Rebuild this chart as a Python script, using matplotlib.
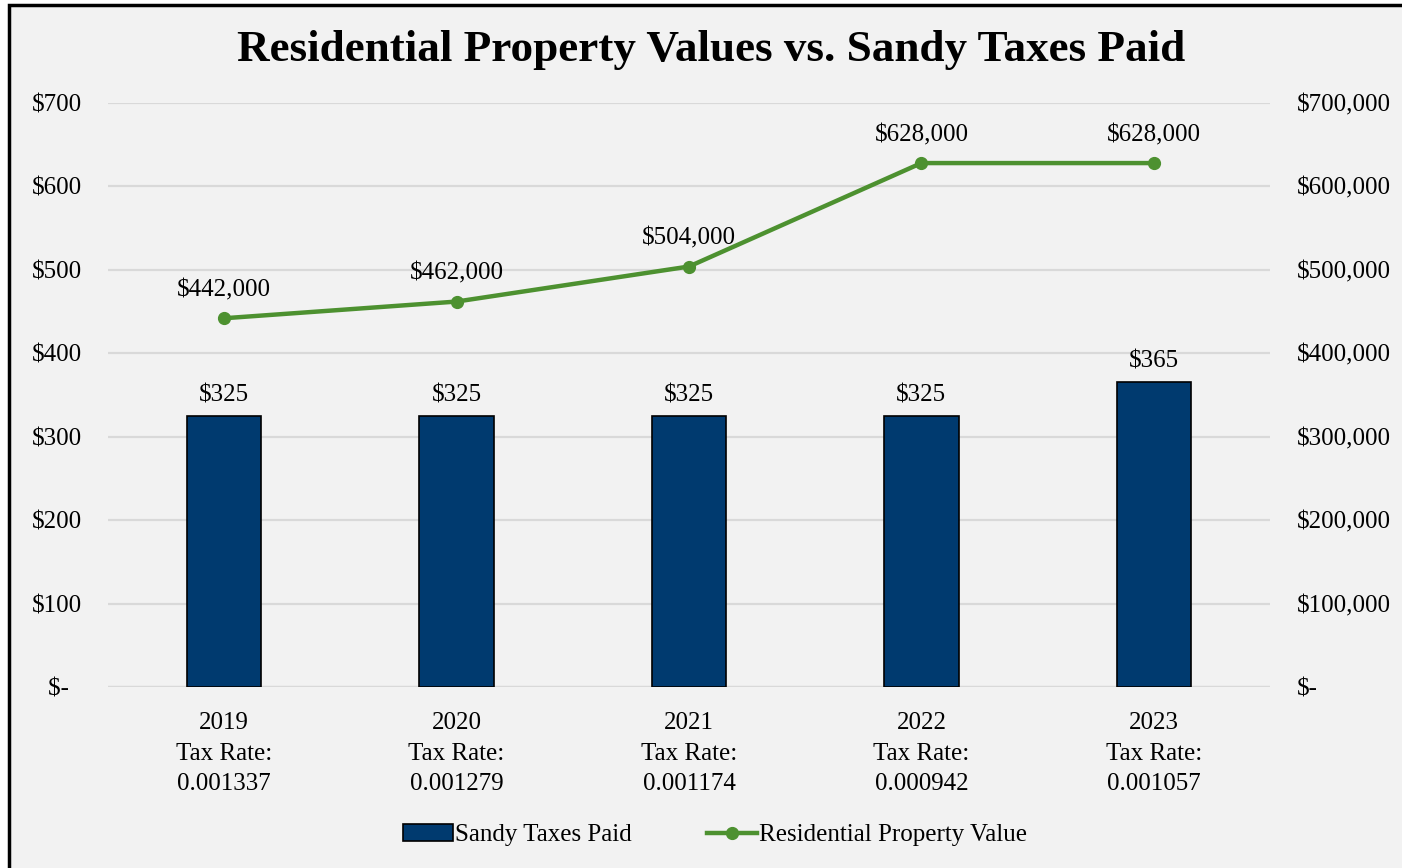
import matplotlib.pyplot as plt
from matplotlib.patches import Rectangle
from matplotlib.lines import Line2D
from matplotlib.ticker import FuncFormatter

# Data
years = ["2019", "2020", "2021", "2022", "2023"]
tax_rates = ["0.001337", "0.001279", "0.001174", "0.000942", "0.001057"]
taxes_paid = [325, 325, 325, 325, 365]
property_values = [442000, 462000, 504000, 628000, 628000]

navy = "#003A6F"
green = "#4D9130"
grid_gray = "#D9D9D9"
bg = "#F2F2F2"
font = "Liberation Serif"
fs = 18


def money(v, pos=None):
    if v == 0:
        return "$-  "
    return "${:,.0f}".format(v)


def money_right(v, pos=None):
    if v == 0:
        return "$-"
    return "${:,.0f}".format(v)


fig = plt.figure(figsize=(14.02, 8.68), dpi=100)
fig.patch.set_facecolor("white")

# Gray panel with black border on top and left
panel = Rectangle((9 / 1402, -0.05), 1.1, 1.05 - 5 / 868, transform=fig.transFigure,
                  facecolor=bg, edgecolor="black", linewidth=2.5, zorder=-10)
fig.patches.append(panel)

ax = fig.add_axes([108 / 1402, 1 - 687 / 868, 1162 / 1402, 584 / 868])
ax.set_facecolor("none")
ax2 = ax.twinx()
ax2.set_facecolor("none")

x = list(range(len(years)))

# Bars
ax.bar(x, taxes_paid, width=0.32, color=navy, edgecolor="black",
       linewidth=1.2, zorder=3)
for xi, v in zip(x, taxes_paid):
    ax.annotate(money_right(v), (xi, v), xytext=(0, 7), textcoords="offset points",
                ha="center", va="bottom", fontsize=fs, family=font)

ax.set_ylim(0, 700)
ax.set_yticks(range(0, 701, 100))
ax.yaxis.set_major_formatter(FuncFormatter(money))
ax.grid(axis="y", color=grid_gray, linewidth=1.6, zorder=0)
ax.set_axisbelow(True)
ax.set_xlim(-0.5, 4.5)
ax.set_xticks(x)
ax.set_xticklabels(["{}\nTax Rate:\n{}".format(y, r) for y, r in zip(years, tax_rates)],
                   fontsize=fs, family=font, linespacing=1.5)
ax.tick_params(axis="both", length=0)
ax.tick_params(axis="x", pad=18)
ax.tick_params(axis="y", pad=19)
for lab in ax.get_yticklabels():
    lab.set_fontsize(fs)
    lab.set_family(font)

# Line on secondary axis
ax2.plot(x, property_values, color=green, linewidth=3.2, marker="o",
         markersize=8.5, zorder=4)
for xi, v in zip(x, property_values):
    ax2.annotate(money_right(v), (xi, v), xytext=(0, 12), textcoords="offset points",
                 ha="center", va="bottom", fontsize=fs, family=font)
ax2.set_ylim(0, 700000)
ax2.set_yticks(range(0, 700001, 100000))
ax2.yaxis.set_major_formatter(FuncFormatter(money_right))
ax2.tick_params(axis="y", length=0, pad=19)
for lab in ax2.get_yticklabels():
    lab.set_fontsize(fs)
    lab.set_family(font)

for a in (ax, ax2):
    for s in a.spines.values():
        s.set_visible(False)
ax.axhline(0, color=grid_gray, linewidth=1.6, zorder=1)

fig.text(711 / 1402, 1 - 50 / 868, "Residential Property Values vs. Sandy Taxes Paid",
         ha="center", va="center", fontsize=32.5, fontweight="bold", family=font)

handles = [
    Rectangle((0, 0), 1, 1, facecolor=navy, edgecolor="black", linewidth=1.2),
    Line2D([0], [0], color=green, linewidth=3.2, marker="o", markersize=8.5),
]
fig.legend(handles, ["Sandy Taxes Paid", "Residential Property Value"],
           loc="center", bbox_to_anchor=(715 / 1402, 1 - 835 / 868), ncol=2,
           frameon=False, prop={"family": font, "size": fs},
           handlelength=2.0, handletextpad=0.1, columnspacing=3.0)

fig.savefig("out.png", dpi=100, facecolor=fig.get_facecolor())
